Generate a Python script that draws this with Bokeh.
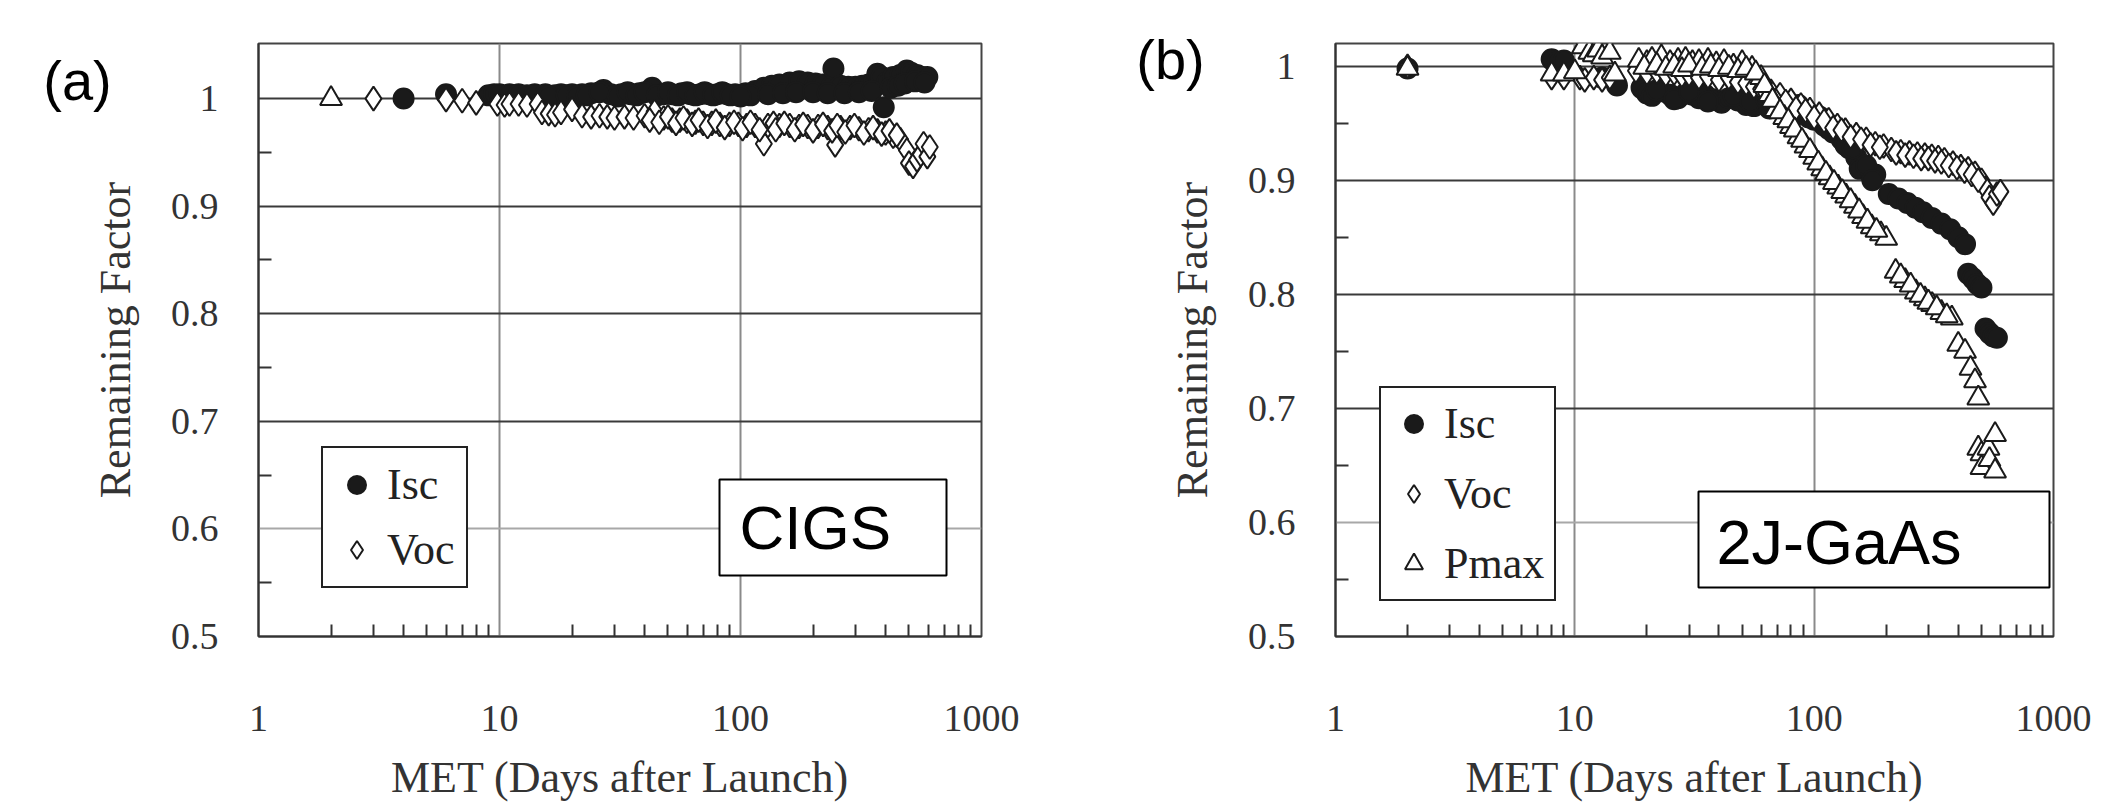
from bokeh.plotting import figure
from bokeh.models import (FixedTicker, Legend, LegendItem, Label, BoxAnnotation,
                          Range1d, Grid, CustomJSTickFormatter, ColumnDataSource)
from bokeh.layouts import row
from bokeh.embed import file_html
from bokeh.resources import INLINE

# ---------------- data ----------------
x_major = [1, 10, 100, 1000]
y_major = [0.5, 0.6, 0.7, 0.8, 0.9, 1.0]
y_minor = [0.55, 0.65, 0.75, 0.85, 0.95]

# (a) CIGS
a_isc_days = [4, 6, 9, 9.5, 10, 11, 12, 13, 14, 15.5, 17, 18, 20, 22, 24, 27, 29, 32, 35, 38,
              43, 48, 52, 57, 62, 68, 74, 80, 88, 95, 105, 115, 125, 135, 145, 160, 175, 190,
              205, 220, 240, 243, 260, 280, 300, 320, 340, 360, 370, 385, 393, 405, 430, 460,
              490, 510, 540, 570, 596,
              110, 130, 150, 170, 200, 230, 270, 310, 350, 420, 450, 480, 530, 580,
              16, 19, 21, 23, 26, 31, 34, 37, 40, 45, 50, 55, 60, 65, 71, 77, 84, 91, 100]
a_isc_vals = [1.000, 1.004, 1.003, 1.004, 1.004, 1.004, 1.004, 1.003, 1.004, 1.004, 1.003, 1.004,
              1.004, 1.004, 1.005, 1.008, 1.004, 1.004, 1.004, 1.005, 1.010, 1.004, 1.004, 1.005,
              1.004, 1.004, 1.004, 1.004, 1.004, 1.004, 1.005, 1.007, 1.010, 1.012, 1.013, 1.015,
              1.016, 1.015, 1.014, 1.013, 1.012, 1.028, 1.012, 1.011, 1.011, 1.012, 1.013, 1.016,
              1.023, 1.020, 0.992, 1.015, 1.020, 1.022, 1.026, 1.024, 1.022, 1.020, 1.020,
              1.003, 1.004, 1.005, 1.006, 1.006, 1.005, 1.005, 1.006, 1.007, 1.010, 1.012, 1.014,
              1.016, 1.015,
              1.002, 1.003, 1.002, 1.003, 1.006, 1.002, 1.006, 1.003, 1.006, 1.003, 1.006, 1.003,
              1.006, 1.003, 1.006, 1.003, 1.006, 1.003, 1.002]
a_voc_days = [3, 6, 7, 8, 9.8, 10.5, 11, 12, 13, 14.4, 15, 16, 17, 18, 20, 22, 24, 26, 28, 30,
              33, 36, 40, 44, 48, 52, 56, 60, 65, 70, 76, 82, 90, 98, 106, 115, 125, 130, 145,
              160, 175, 190, 210, 230, 247, 260, 285, 310, 340, 370, 400, 430, 460, 490, 500,
              520, 540, 560, 575, 596, 610,
              42, 46, 50, 54, 58, 63, 67, 73, 79, 86, 94, 102, 110, 120, 137, 140, 152, 168,
              182, 200, 220, 240, 252, 272, 297, 325, 355, 385, 415, 445]
a_voc_vals = [1.000, 0.999, 0.998, 0.996, 0.995, 0.994, 0.995, 0.995, 0.994, 0.995, 0.987, 0.986,
              0.985, 0.987, 0.990, 0.984, 0.983, 0.984, 0.983, 0.982, 0.983, 0.982, 0.984, 0.988,
              0.982, 0.980, 0.980, 0.979, 0.978, 0.977, 0.977, 0.976, 0.976, 0.976, 0.975, 0.975,
              0.958, 0.975, 0.975, 0.975, 0.974, 0.974, 0.974, 0.973, 0.957, 0.973, 0.973, 0.972,
              0.971, 0.970, 0.968, 0.965, 0.962, 0.952, 0.940, 0.937, 0.943, 0.948, 0.958, 0.946,
              0.955,
              0.980, 0.978, 0.983, 0.977, 0.982, 0.976, 0.980, 0.974, 0.979, 0.973, 0.978, 0.972,
              0.978, 0.971, 0.977, 0.971, 0.977, 0.971, 0.976, 0.970, 0.976, 0.970, 0.975, 0.969,
              0.975, 0.968, 0.973, 0.967, 0.970, 0.966]
a_pmax_days = [2]
a_pmax_vals = [1.000]

# (b) 2J-GaAs
b_isc_days = [2, 8, 8.5, 9, 13, 15, 19, 20, 21, 23, 25, 27, 29, 31, 33, 35, 38, 41, 44, 48, 52,
              56, 60, 65, 70, 76, 82, 90, 100, 110, 120, 130, 140, 150, 160, 170, 180, 205, 225,
              245, 265, 285, 310, 340, 370, 400, 427, 440, 460, 480, 500, 520, 540, 560, 580,
              22, 26, 30, 36, 46, 54, 63, 73, 86, 95, 105, 115, 125, 135, 145, 155, 165, 175]
b_isc_vals = [0.998, 1.006, 1.004, 1.005, 0.990, 0.983, 0.981, 0.976, 0.974, 0.978, 0.975, 0.972,
              0.976, 0.975, 0.972, 0.975, 0.971, 0.968, 0.972, 0.970, 0.966, 0.965, 0.967, 0.963,
              0.968, 0.965, 0.962, 0.958, 0.953, 0.948, 0.942, 0.936, 0.928, 0.920, 0.912, 0.907,
              0.905, 0.888, 0.884, 0.880, 0.876, 0.872, 0.867, 0.862, 0.857, 0.850, 0.844, 0.818,
              0.814, 0.809, 0.806, 0.770, 0.766, 0.763, 0.762,
              0.979, 0.971, 0.978, 0.969, 0.974, 0.969, 0.971, 0.962, 0.966, 0.955, 0.956, 0.945,
              0.944, 0.931, 0.928, 0.910, 0.913, 0.900]
b_voc_days = [2, 8, 9, 10.5, 11, 12, 13, 14, 18, 20, 22, 24, 26, 28, 30, 33, 36, 40, 44, 48, 52,
              56, 60, 66, 72, 80, 88, 96, 105, 115, 125, 135, 150, 165, 180, 195, 210, 230, 250,
              270, 290, 310, 330, 350, 380, 410, 440, 470, 500, 520, 540, 560, 580, 600,
              63, 69, 76, 84, 92, 100, 110, 120, 130, 142, 157, 172, 188, 220, 240, 260, 280,
              300, 320, 340, 365, 395, 425, 455, 485]
b_voc_vals = [1.000, 0.990, 0.990, 0.990, 0.988, 0.990, 0.988, 0.990, 0.996, 0.994, 0.995, 0.993,
              0.994, 0.992, 0.993, 0.990, 0.991, 0.988, 0.990, 0.986, 0.985, 0.982, 0.980, 0.978,
              0.975, 0.970, 0.966, 0.962, 0.958, 0.953, 0.948, 0.944, 0.940, 0.936, 0.932, 0.930,
              0.927, 0.925, 0.924, 0.923, 0.922, 0.921, 0.920, 0.918, 0.915, 0.912, 0.910, 0.906,
              0.900, 0.893, 0.885, 0.880, 0.888, 0.890,
              0.976, 0.970, 0.969, 0.963, 0.961, 0.955, 0.952, 0.946, 0.944, 0.938, 0.936, 0.931,
              0.929, 0.924, 0.922, 0.921, 0.919, 0.919, 0.917, 0.916, 0.913, 0.911, 0.908, 0.905,
              0.900]
b_pmax_days = [2, 8, 9, 10, 10.8, 11.5, 12, 12.5, 13, 14, 14.7, 18.5, 20, 21, 23, 25, 27, 29, 31,
               33, 36, 39, 42, 46, 50, 55, 60, 65, 69, 75, 80, 86, 92, 100, 108, 116, 126, 136,
               148, 160, 174, 190, 200, 219, 240, 266, 290, 311, 340, 376, 400, 427, 450, 470,
               485, 485, 500, 535, 570, 500, 540, 570,
               19.5, 22, 24, 26, 28, 30, 34, 37, 40, 44, 48, 52, 57, 62, 67, 72, 78, 83, 89,
               96, 104, 112, 121, 131, 142, 154, 167, 182, 230, 253, 278, 300, 325, 358]
b_pmax_vals = [0.998, 0.993, 0.993, 0.995, 1.017, 1.012, 1.010, 1.014, 1.008, 1.012, 0.993,
               1.005, 1.003, 1.006, 1.008, 1.003, 1.005, 1.006, 1.003, 1.004, 1.005, 1.002,
               1.004, 1.000, 1.003, 0.998, 0.990, 0.975, 0.962, 0.955, 0.947, 0.938, 0.930,
               0.920, 0.910, 0.902, 0.894, 0.886, 0.877, 0.868, 0.859, 0.853, 0.849, 0.820,
               0.812, 0.802, 0.796, 0.791, 0.784, 0.779, 0.756, 0.750, 0.735, 0.724, 0.709,
               0.665, 0.660, 0.665, 0.677, 0.648, 0.655, 0.645,
               0.999, 1.001, 0.998, 1.000, 0.997, 1.001, 0.998, 1.000, 0.997, 0.999, 0.996,
               0.998, 0.994, 0.983, 0.970, 0.960, 0.952, 0.944, 0.935, 0.926, 0.915, 0.906,
               0.898, 0.890, 0.882, 0.873, 0.864, 0.856, 0.816, 0.808, 0.799, 0.793, 0.788,
               0.781]

SERIF = "Liberation Serif"
SANS = "Liberation Sans"
INK = "#1a1a1a"


def make_panel(ytop, width, height, bl, br, bt, bb):
    p = figure(width=width, height=height, x_axis_type="log",
               x_range=Range1d(1, 1000), y_range=Range1d(0.5, ytop),
               output_backend="svg", toolbar_location=None,
               min_border_left=bl, min_border_right=br,
               min_border_top=bt, min_border_bottom=bb)
    p.background_fill_color = "white"
    p.border_fill_color = "white"
    p.outline_line_color = "#444444"
    p.outline_line_width = 2

    fmt = CustomJSTickFormatter(code="return String(tick)")
    minor_x = [k * 10 ** d for d in range(3) for k in range(2, 10)]
    p.xaxis.ticker = FixedTicker(ticks=x_major, minor_ticks=minor_x)
    p.yaxis.ticker = FixedTicker(ticks=y_major, minor_ticks=y_minor)
    p.xaxis.formatter = fmt
    p.yaxis.formatter = fmt
    for ax in (p.xaxis[0], p.yaxis[0]):
        ax.major_tick_in = 0
        ax.major_tick_out = 0
        ax.minor_tick_out = 0
        ax.minor_tick_line_color = "#333333"
        ax.minor_tick_line_width = 2
        ax.axis_line_color = "#333333"
        ax.axis_line_width = 2
        ax.major_label_text_font = SERIF
        ax.major_label_text_font_size = "38px"
        ax.major_label_text_color = "#333333"
        ax.axis_label_text_font = SERIF
        ax.axis_label_text_font_size = "44px"
        ax.axis_label_text_font_style = "normal"
        ax.axis_label_text_color = "#333333"
    p.xaxis.minor_tick_in = 12
    p.yaxis.minor_tick_in = 13
    p.xaxis.major_label_standoff = 69
    p.xaxis.axis_label_standoff = 19
    p.yaxis.major_label_standoff = 40
    p.yaxis.axis_label_standoff = 28
    p.xaxis.axis_label = "MET (Days after Launch)"
    p.yaxis.axis_label = "Remaining Factor"

    p.xgrid.ticker = FixedTicker(ticks=[10, 100])
    p.xgrid.grid_line_color = "#8a8a8a"
    p.xgrid.grid_line_width = 2
    p.ygrid.ticker = FixedTicker(ticks=[0.7, 0.8, 0.9, 1.0])
    p.ygrid.grid_line_color = "#3a3a3a"
    p.ygrid.grid_line_width = 2
    p.add_layout(Grid(dimension=1, ticker=FixedTicker(ticks=[0.6]),
                      grid_line_color="#a8a8a8", grid_line_width=2))
    return p


def add_series(p, days, vals, marker, size, fill):
    src = ColumnDataSource(dict(x=days, y=vals))
    return p.scatter("x", "y", source=src, marker=marker, size=size,
                     fill_color=fill, line_color=INK, line_width=2)


def style_legend(lg):
    lg.border_line_color = "#222222"
    lg.border_line_alpha = 1
    lg.border_line_width = 2
    lg.background_fill_color = "white"
    lg.background_fill_alpha = 1
    lg.label_text_font = SERIF
    lg.label_text_font_size = "44px"
    lg.label_text_color = "#222222"
    lg.glyph_width = 45
    lg.glyph_height = 45
    lg.label_standoff = 8
    lg.label_height = 50
    lg.margin = 0


def panel_tag(p, text, cx, cy):
    # placed in a side panel so that it is not clipped to the plot frame
    p.add_layout(Label(x=cx, y=cy, x_units="canvas", y_units="canvas", text=text,
                       text_font=SANS, text_font_size="56px", text_color="black",
                       text_align="center", text_baseline="middle"), "left")


# ---------------- panel (a) ----------------
pa = make_panel(1.0512, 1054, 808, 258, 73, 43, 169)
ra1 = add_series(pa, a_isc_days, a_isc_vals, "circle", 20, INK)
ra2 = add_series(pa, a_voc_days, a_voc_vals, "diamond", 24, "white")
add_series(pa, a_pmax_days, a_pmax_vals, "triangle", 22, "white")
lga = Legend(items=[LegendItem(label="Isc", renderers=[ra1]),
                    LegendItem(label="Voc", renderers=[ra2])],
             location=(63, 48), padding=11, spacing=14)
style_legend(lga)
pa.add_layout(lga)
pa.add_layout(BoxAnnotation(left=461, right=688, bottom=61, top=157,
                            left_units="screen", right_units="screen",
                            bottom_units="screen", top_units="screen",
                            fill_color="white", fill_alpha=1,
                            line_color="black", line_width=2, line_alpha=1))
pa.add_layout(Label(x=481, y=109, x_units="screen", y_units="screen", text="CIGS",
                    text_font=SANS, text_font_size="62px", text_color="black",
                    text_align="left", text_baseline="middle"))
panel_tag(pa, "(a)", 77, 80)

# ---------------- panel (b) ----------------
pb = make_panel(1.0199, 1054, 808, 281, 55, 42, 172)
rb1 = add_series(pb, b_isc_days, b_isc_vals, "circle", 20, INK)
rb2 = add_series(pb, b_voc_days, b_voc_vals, "diamond", 24, "white")
rb3 = add_series(pb, b_pmax_days, b_pmax_vals, "triangle", 22, "white")
lgb = Legend(items=[LegendItem(label="Isc", renderers=[rb1]),
                    LegendItem(label="Voc", renderers=[rb2]),
                    LegendItem(label="Pmax", renderers=[rb3])],
             location=(44, 35), padding=10, spacing=19)
style_legend(lgb)
pb.add_layout(lgb)
pb.add_layout(BoxAnnotation(left=363, right=714, bottom=49, top=145,
                            left_units="screen", right_units="screen",
                            bottom_units="screen", top_units="screen",
                            fill_color="white", fill_alpha=1,
                            line_color="black", line_width=2, line_alpha=1))
pb.add_layout(Label(x=381, y=95, x_units="screen", y_units="screen", text="2J-GaAs",
                    text_font=SANS, text_font_size="63px", text_color="black",
                    text_align="left", text_baseline="middle"))
panel_tag(pb, "(b)", 116, 59)

layout = row(pa, pb)
open("out.html", "w").write(file_html(layout, INLINE))
